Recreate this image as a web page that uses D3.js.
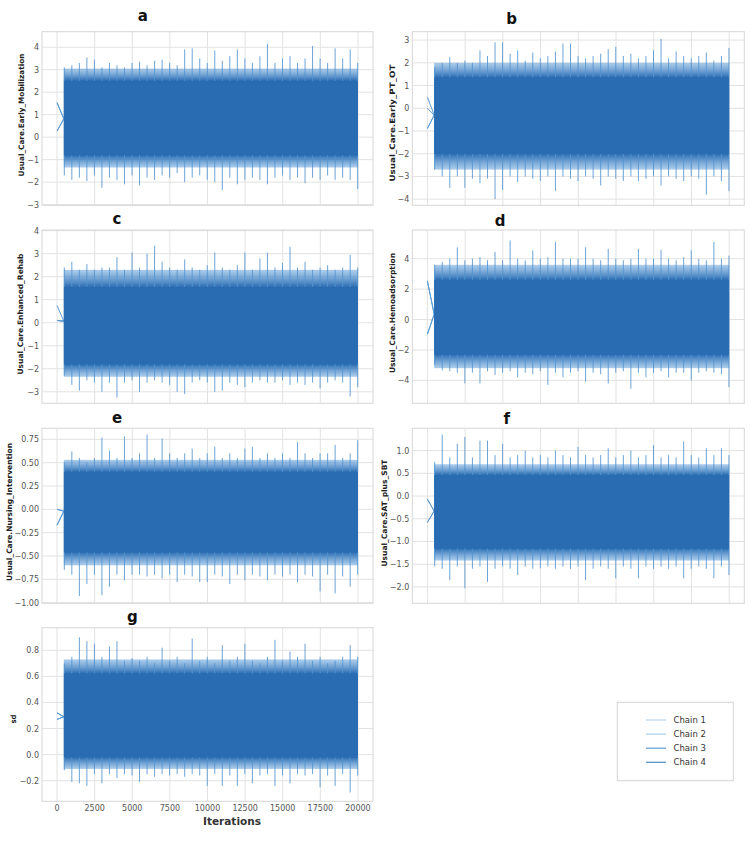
<!DOCTYPE html>
<html>
<head>
<meta charset="utf-8">
<script src="https://cdn.jsdelivr.net/npm/d3@7"></script>
<style>
  body { margin: 0; background: #fff; }
  text { font-family: "DejaVu Sans", sans-serif; }
</style>
</head>
<body>
<svg id="chart" width="750" height="859"></svg>
<script>
// ---- data ----
var iterTicks = [0, 2500, 5000, 7500, 10000, 12500, 15000, 17500, 20000];
var chainNames = ["Chain 1", "Chain 2", "Chain 3", "Chain 4"];
var warmupEnd = 450;
var binIters = d3.range(40).map((i) => 450 + i * 500);

var titles = ["a", "b", "c", "d", "e", "f", "g"];
var paramNames = [
  "Usual_Care.Early_Mobilization",
  "Usual_Care.Early_PT_OT",
  "Usual_Care.Enhanced_Rehab",
  "Usual_Care.Hemoadsorption",
  "Usual_Care.Nursing_Intervention",
  "Usual_Care.SAT_plus_SBT",
  "sd"
];

// initial values of the 4 chains and where they join the trace
var initA = [1.53, 0.27, 1.53, 0.27], joinA = 0.82;
var initB = [0.5, 0.0, -0.89, -0.89], joinB = -0.3;
var initC = [0.75, 0.1, 0.1, 0.1], joinC = 0.07;
var initD = [2.54, -0.97, 2.54, -0.97], joinD = 0.35;
var initE = [0.0, -0.17, 0.0, -0.17], joinE = -0.02;
var initF = [-0.07, -0.58, -0.07, -0.58], joinF = -0.33;
var initG = [0.32, 0.27, 0.32, 0.27], joinG = 0.29;

// dense part of the trace: [low, high]
var coreA = [-0.8, 2.5], fringeA = [-1.35, 3.05];
var coreB = [-2.0, 1.35], fringeB = [-2.7, 2.0];
var coreC = [-1.8, 1.55], fringeC = [-2.35, 2.3];
var coreD = [-2.3, 2.6], fringeD = [-3.2, 3.6];
var coreE = [-0.46, 0.4], fringeE = [-0.6, 0.53];
var coreF = [-1.15, 0.46], fringeF = [-1.42, 0.7];
var coreG = [-0.02, 0.62], fringeG = [-0.11, 0.73];

// extreme draws per 500-iteration bin
var hiA = [3.1,3.2,3.3,3.55,3.45,3.1,3.3,3.2,3.1,3.3,3.35,3.2,3.4,3.45,3.3,3.2,3.9,3.95,3.5,3.3,3.85,3.4,3.6,3.9,3.5,3.3,3.6,4.15,3.3,3.5,3.6,3.3,3.5,4.05,3.5,3.3,3.95,3.5,3.9,3.3];
var loA = [-1.7,-1.9,-1.8,-1.95,-1.7,-2.25,-1.8,-1.9,-2.1,-1.7,-2.15,-1.8,-1.9,-1.7,-1.8,-1.6,-2.0,-1.8,-1.7,-1.9,-2.0,-2.35,-1.8,-2.1,-1.9,-1.8,-1.9,-2.1,-1.8,-1.7,-1.9,-1.8,-2.05,-1.8,-1.9,-1.7,-1.9,-1.8,-1.9,-2.3];
var hiB = [1.8,2.0,2.25,2.0,2.1,2.0,2.55,2.3,2.9,2.9,2.4,2.55,2.1,2.45,2.2,2.3,2.5,2.85,2.85,2.3,2.2,2.3,2.4,2.6,2.7,2.3,2.4,2.2,2.3,2.55,3.05,2.2,2.5,2.3,2.2,2.3,2.45,2.1,2.3,2.65];
var loB = [-2.7,-3.0,-3.5,-3.0,-3.5,-3.1,-3.3,-3.1,-4.0,-3.6,-3.0,-3.25,-3.0,-3.1,-3.2,-3.0,-3.65,-3.0,-3.1,-3.2,-3.0,-3.1,-3.4,-3.0,-3.1,-3.2,-3.0,-3.2,-3.1,-3.0,-3.4,-3.0,-3.1,-3.2,-3.0,-3.1,-3.8,-3.0,-3.2,-3.65];
var hiC = [2.4,2.65,2.3,2.55,2.3,2.4,2.4,2.85,2.3,3.05,2.4,3.0,3.35,2.65,2.4,2.3,2.75,2.4,2.3,2.5,3.05,2.4,2.3,2.5,3.05,2.3,2.8,3.05,2.4,2.6,3.3,2.4,2.65,2.3,2.4,2.5,2.3,2.4,2.95,2.4];
var loC = [-2.3,-2.7,-2.95,-2.5,-2.6,-3.0,-2.6,-3.25,-2.6,-2.5,-3.0,-2.6,-2.5,-2.6,-2.7,-3.0,-3.1,-2.6,-2.5,-2.6,-3.0,-2.95,-2.6,-2.7,-2.8,-2.6,-2.5,-2.6,-2.6,-2.5,-2.7,-2.6,-2.7,-2.6,-2.85,-2.6,-2.5,-2.6,-3.2,-2.8];
var hiD = [3.6,3.8,4.0,4.75,3.9,4.0,4.1,3.9,4.45,3.9,5.2,4.0,3.9,4.55,4.0,4.1,5.1,4.0,4.0,4.0,4.75,4.0,3.9,4.65,4.0,3.9,4.0,4.65,4.0,4.0,4.6,4.0,3.9,4.1,4.55,4.0,3.9,5.1,4.0,4.2];
var loD = [-3.0,-3.35,-3.4,-3.5,-4.2,-3.5,-4.2,-3.4,-3.65,-3.5,-3.4,-3.8,-3.5,-3.6,-3.4,-4.3,-3.5,-3.8,-3.5,-3.4,-4.1,-3.5,-3.6,-4.2,-3.5,-3.4,-4.55,-3.5,-3.8,-3.5,-3.4,-3.8,-3.5,-3.5,-4.0,-3.5,-3.4,-3.5,-3.6,-4.45];
var hiE = [0.5,0.62,0.55,0.5,0.55,0.77,0.63,0.55,0.78,0.55,0.6,0.8,0.55,0.76,0.6,0.55,0.6,0.65,0.55,0.6,0.67,0.55,0.6,0.55,0.65,0.67,0.55,0.6,0.55,0.6,0.55,0.72,0.6,0.55,0.6,0.6,0.69,0.55,0.6,0.74];
var loE = [-0.65,-0.7,-0.93,-0.8,-0.7,-0.92,-0.83,-0.7,-0.76,-0.7,-0.7,-0.72,-0.7,-0.74,-0.7,-0.78,-0.7,-0.72,-0.78,-0.78,-0.7,-0.72,-0.8,-0.7,-0.76,-0.7,-0.72,-0.76,-0.7,-0.72,-0.7,-0.78,-0.7,-0.72,-0.88,-0.7,-0.9,-0.72,-0.83,-0.7];
var hiF = [0.75,1.35,0.85,1.15,1.3,0.85,1.22,1.22,0.9,1.15,0.85,0.9,1.0,0.85,0.9,0.85,1.0,0.9,0.85,1.08,0.9,0.85,0.9,1.05,0.85,0.9,1.0,0.85,0.9,1.12,0.85,0.9,0.85,1.2,0.9,0.85,1.05,0.9,1.05,0.9];
var loF = [-1.55,-1.6,-1.85,-1.55,-2.03,-1.6,-1.55,-1.89,-1.6,-1.55,-1.6,-1.74,-1.55,-1.6,-1.59,-1.55,-1.6,-1.55,-1.6,-1.55,-1.85,-1.6,-1.55,-1.6,-1.81,-1.55,-1.6,-1.81,-1.55,-1.6,-1.55,-1.6,-1.55,-1.81,-1.6,-1.55,-1.6,-1.81,-1.55,-1.74];
var hiG = [0.7,0.75,0.9,0.87,0.85,0.75,0.83,0.87,0.72,0.74,0.72,0.75,0.7,0.82,0.72,0.75,0.7,0.89,0.72,0.75,0.7,0.84,0.72,0.75,0.85,0.72,0.7,0.75,0.88,0.72,0.79,0.75,0.85,0.72,0.75,0.7,0.72,0.75,0.84,0.75];
var loG = [-0.12,-0.21,-0.22,-0.24,-0.15,-0.22,-0.15,-0.18,-0.15,-0.16,-0.21,-0.15,-0.17,-0.15,-0.16,-0.15,-0.17,-0.15,-0.16,-0.24,-0.15,-0.24,-0.16,-0.24,-0.15,-0.22,-0.16,-0.15,-0.24,-0.16,-0.22,-0.15,-0.16,-0.15,-0.25,-0.16,-0.24,-0.15,-0.29,-0.16];

// y ticks per panel
var ticksA = [-3, -2, -1, 0, 1, 2, 3, 4];
var ticksB = [-4, -3, -2, -1, 0, 1, 2, 3];
var ticksC = [-3, -2, -1, 0, 1, 2, 3, 4];
var ticksD = [-4, -2, 0, 2, 4];
var ticksE = [-1.0, -0.75, -0.5, -0.25, 0, 0.25, 0.5, 0.75];
var ticksF = [-2.0, -1.5, -1.0, -0.5, 0, 0.5, 1.0];
var ticksG = [-0.2, 0, 0.2, 0.4, 0.6, 0.8];

// ---- layout ----
var colX = [[42, 373], [412.3, 744.3]];
var rowY = [[31.7, 205.3], [230, 403.3], [428.3, 603.3], [627.7, 801.3]];

var panels = [
  { col: 0, row: 0, dom: [-3.03, 4.69], ticks: ticksA, fmt: "d", core: coreA, fringe: fringeA, hi: hiA, lo: loA, init: initA, join: joinA, title: [142.7, 21], lab: [20.7, 115, 123] },
  { col: 1, row: 0, dom: [-4.27, 3.37], ticks: ticksB, fmt: "d", core: coreB, fringe: fringeB, hi: hiB, lo: loB, init: initB, join: joinB, title: [511.7, 24], lab: [391.7, 123, 117] },
  { col: 0, row: 1, dom: [-3.5, 4.03], ticks: ticksC, fmt: "d", core: coreC, fringe: fringeC, hi: hiC, lo: loC, init: initC, join: joinC, title: [117, 224], lab: [20, 314, 121] },
  { col: 1, row: 1, dom: [-5.51, 5.89], ticks: ticksD, fmt: "d", core: coreD, fringe: fringeD, hi: hiD, lo: loD, init: initD, join: joinD, title: [500, 226], lab: [391.7, 313, 120] },
  { col: 0, row: 2, dom: [-1.007, 0.868], ticks: ticksE, fmt: ".2f", core: coreE, fringe: fringeE, hi: hiE, lo: loE, init: initE, join: joinE, title: [117, 423], lab: [9, 512, 138] },
  { col: 1, row: 2, dom: [-2.36, 1.49], ticks: ticksF, fmt: ".1f", core: coreF, fringe: fringeF, hi: hiF, lo: loF, init: initF, join: joinF, title: [506.7, 423.5], lab: [384.3, 513, 107] },
  { col: 0, row: 3, dom: [-0.358, 0.973], ticks: ticksG, fmt: ".1f", core: coreG, fringe: fringeG, hi: hiG, lo: loG, init: initG, join: joinG, title: [132.3, 622], lab: [13.3, 719, 9] }
];

var svg = d3.select("#chart");
var defs = svg.append("defs");
var gridColor = "#e2e2e2";
var traceDark = "#2a6cb2";
var spikeColor = "#5495d1";

panels.forEach(function (p, k) {
  var x = d3.scaleLinear().domain([-1000, 21000]).range(colX[p.col]);
  var y = d3.scaleLinear().domain(p.dom).range([rowY[p.row][1], rowY[p.row][0]]);
  var g = svg.append("g").attr("class", "panel");
  var x0 = colX[p.col][0], x1 = colX[p.col][1];
  var y0 = rowY[p.row][0], y1 = rowY[p.row][1];

  // grid
  g.append("g")
    .selectAll("line")
    .data(iterTicks)
    .join("line")
    .attr("x1", (d) => x(d)).attr("x2", (d) => x(d))
    .attr("y1", y0).attr("y2", y1)
    .attr("stroke", gridColor).attr("stroke-width", 1);
  g.append("g")
    .selectAll("line")
    .data(p.ticks)
    .join("line")
    .attr("x1", x0).attr("x2", x1)
    .attr("y1", (d) => y(d)).attr("y2", (d) => y(d))
    .attr("stroke", gridColor).attr("stroke-width", 1);

  // y tick labels
  var fmt = d3.format(p.fmt);
  g.append("g")
    .selectAll("text")
    .data(p.ticks)
    .join("text")
    .attr("x", x0 - 3)
    .attr("y", (d) => y(d) + 3)
    .attr("text-anchor", "end")
    .attr("font-size", 8)
    .attr("fill", "#555")
    .text((d) => fmt(d));

  // warmup lines of each chain
  g.append("g")
    .selectAll("line")
    .data(p.init)
    .join("line")
    .attr("x1", x(0)).attr("y1", (d) => y(d))
    .attr("x2", x(warmupEnd)).attr("y2", y(p.join))
    .attr("stroke", "#5b9bd5").attr("stroke-width", 1);

  // soft-edged dense band
  var gy0 = y(p.fringe[1]), gy1 = y(p.fringe[0]);
  var off = (v) => (y(v) - gy0) / (gy1 - gy0);
  var grad = defs.append("linearGradient")
    .attr("id", "band" + k)
    .attr("gradientUnits", "userSpaceOnUse")
    .attr("x1", 0).attr("x2", 0).attr("y1", gy0).attr("y2", gy1);
  grad.append("stop").attr("offset", 0).attr("stop-color", "#6aa5dc").attr("stop-opacity", 0.55);
  grad.append("stop").attr("offset", off(p.core[1])).attr("stop-color", traceDark);
  grad.append("stop").attr("offset", off(p.core[0])).attr("stop-color", traceDark);
  grad.append("stop").attr("offset", 1).attr("stop-color", "#6aa5dc").attr("stop-opacity", 0.55);

  g.append("rect")
    .attr("x", x(warmupEnd)).attr("width", x(20000) - x(warmupEnd))
    .attr("y", gy0).attr("height", gy1 - gy0)
    .attr("fill", "url(#band" + k + ")");

  // spikes
  var sp = g.append("g").attr("stroke", spikeColor).attr("stroke-width", 1).attr("opacity", 0.85);
  sp.selectAll("line.hi")
    .data(p.hi)
    .join("line")
    .attr("class", "hi")
    .attr("x1", (d, i) => x(binIters[i]) + 0.5).attr("x2", (d, i) => x(binIters[i]) + 0.5)
    .attr("y1", y(p.core[1])).attr("y2", (d) => y(d));
  sp.selectAll("line.lo")
    .data(p.lo)
    .join("line")
    .attr("class", "lo")
    .attr("x1", (d, i) => x(binIters[i]) + 0.5).attr("x2", (d, i) => x(binIters[i]) + 0.5)
    .attr("y1", y(p.core[0])).attr("y2", (d) => y(d));

  g.append("rect")
    .attr("x", x(warmupEnd)).attr("width", x(20000) - x(warmupEnd))
    .attr("y", y(p.core[1])).attr("height", y(p.core[0]) - y(p.core[1]))
    .attr("fill", traceDark);

  // frame
  g.append("rect")
    .attr("x", x0).attr("y", y0)
    .attr("width", x1 - x0).attr("height", y1 - y0)
    .attr("fill", "none").attr("stroke", "#d6d6d6").attr("stroke-width", 1);

  // title
  g.append("text")
    .attr("x", p.title[0]).attr("y", p.title[1])
    .attr("text-anchor", "middle")
    .attr("font-family", "Liberation Sans, Arial, sans-serif")
    .attr("font-weight", "bold")
    .attr("font-size", 15)
    .attr("fill", "#111")
    .text(titles[k]);

  // y label
  g.append("text")
    .attr("transform", "translate(" + (p.lab[0] + 3) + "," + p.lab[1] + ") rotate(-90)")
    .attr("text-anchor", "middle")
    .attr("font-weight", "bold")
    .attr("font-size", 7.5)
    .attr("fill", "#222")
    .attr("textLength", p.lab[2])
    .attr("lengthAdjust", "spacingAndGlyphs")
    .text(paramNames[k]);

  // x axis labels only on the bottom panel
  if (p.row === 3) {
    g.append("g")
      .selectAll("text")
      .data(iterTicks)
      .join("text")
      .attr("x", (d) => x(d))
      .attr("y", 811)
      .attr("text-anchor", "middle")
      .attr("font-size", 8)
      .attr("fill", "#555")
      .text((d) => d);
    g.append("text")
      .attr("x", 232).attr("y", 825)
      .attr("text-anchor", "middle")
      .attr("font-weight", "bold")
      .attr("font-size", 10)
      .attr("fill", "#333")
      .attr("textLength", 58)
      .attr("lengthAdjust", "spacingAndGlyphs")
      .text("Iterations");
  }
});

// legend
var chainColors = ["#b9d6ec", "#a8cce6", "#5d9cd6", "#4a8bcb"];
var legend = svg.append("g").attr("class", "legend");
legend.append("rect")
  .attr("x", 617.3).attr("y", 702.3)
  .attr("width", 116).attr("height", 78.4)
  .attr("fill", "#fff").attr("stroke", "#d4d4d4");
var ly = d3.scalePoint().domain(chainNames).range([720, 762.3]);
legend.selectAll("line")
  .data(chainNames)
  .join("line")
  .attr("x1", 646).attr("x2", 666)
  .attr("y1", (d) => ly(d)).attr("y2", (d) => ly(d))
  .attr("stroke", (d, i) => chainColors[i]).attr("stroke-width", 1.2);
legend.selectAll("text")
  .data(chainNames)
  .join("text")
  .attr("x", 673.5)
  .attr("y", (d) => ly(d) + 3)
  .attr("font-family", "Liberation Sans, Arial, sans-serif")
  .attr("font-size", 8.5)
  .attr("fill", "#333")
  .text((d) => d);
</script>
</body>
</html>
